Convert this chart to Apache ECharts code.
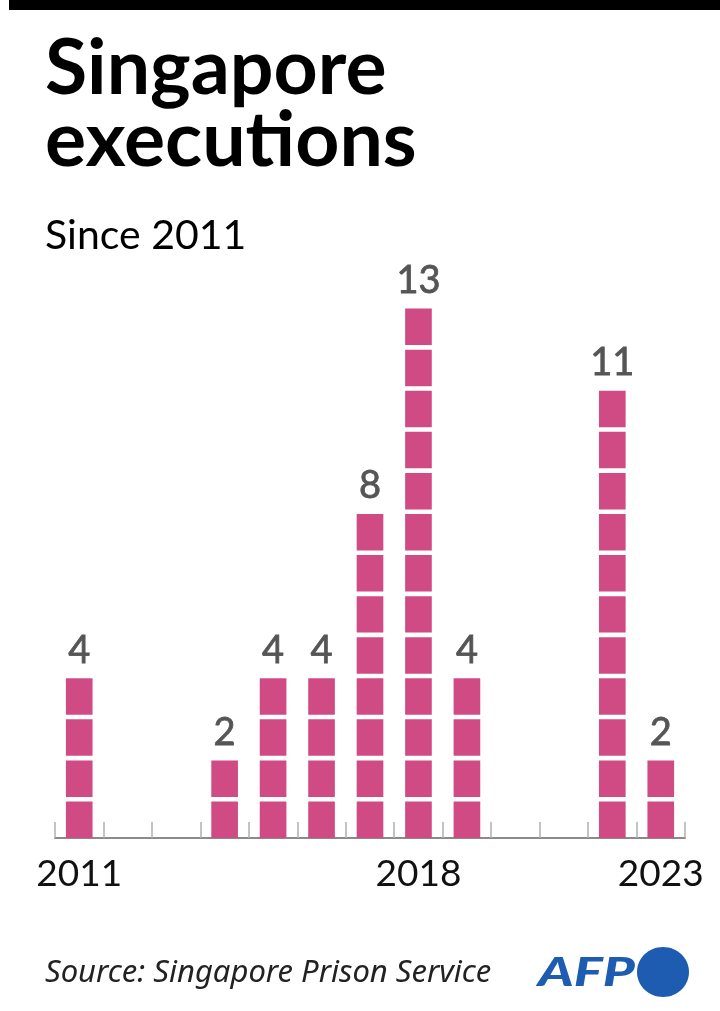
<!DOCTYPE html>
<html>
<head>
<meta charset="utf-8">
<script src="https://cdn.jsdelivr.net/npm/echarts@6/dist/echarts.min.js"></script>
<style>
html,body{margin:0;padding:0;background:#fff;}
#chart{width:720px;height:1011px;}
</style>
</head>
<body>
<div id="chart"></div>
<script>
const years = ['2011','2012','2013','2014','2015','2016','2017','2018','2019','2020','2021','2022','2023'];
const executions = [4, 0, 0, 2, 4, 4, 8, 13, 4, 0, 0, 11, 2];
const shownYearLabels = ['2011','2018','2023'];

const chart = echarts.init(document.getElementById('chart'), null, {renderer:'canvas'});

const PINK = '#d04b84';
const GAP = 4.6;

const option = {
  backgroundColor: '#ffffff',
  animation: false,
  grid: { left: 55, right: 35, top: 304, bottom: 173 },
  xAxis: {
    type: 'category',
    data: years,
    boundaryGap: true,
    axisLine: { show: true, lineStyle: { color: '#8a8a8a', width: 2 } },
    axisTick: { show: true, inside: true, length: 16, interval: 0, lineStyle: { color: '#b0b0b0', width: 1.5 } },
    axisLabel: {
      interval: 0,
      margin: 18,
      color: '#111',
      fontFamily: 'Lato',
      fontSize: 37,
      formatter: function (v) { return shownYearLabels.indexOf(v) >= 0 ? v : ''; }
    }
  },
  yAxis: {
    type: 'value', min: 0, max: 13,
    show: false,
    splitLine: { show: false }
  },
  series: [{
    type: 'custom',
    data: executions.map(function (v, i) { return [i, v]; }),
    renderItem: function (params, api) {
      const xi = api.value(0);
      const v = api.value(1);
      const bw = api.size([1, 0])[0] * 0.55;
      const children = [];
      for (let k = 0; k < v; k++) {
        const p0 = api.coord([xi, k]);
        const p1 = api.coord([xi, k + 1]);
        children.push({
          type: 'rect',
          shape: { x: p0[0] - bw / 2, y: p1[1] + GAP, width: bw, height: p0[1] - p1[1] - GAP },
          style: { fill: PINK }
        });
      }
      if (v > 0) {
        const top = api.coord([xi, v]);
        children.push({
          type: 'text',
          style: {
            text: String(v),
            x: top[0],
            y: top[1] + GAP - 9,
            align: 'center',
            verticalAlign: 'bottom',
            font: '38px Lato',
            fill: '#555555',
            stroke: '#555555',
            lineWidth: 0.8
          }
        });
      }
      return { type: 'group', children: children };
    },
    z: 1
  }],
  graphic: [
    { type: 'rect', left: 9, top: 0, shape: { width: 711, height: 10 }, style: { fill: '#000' } },
    { type: 'text', left: 45, top: 31, style: { text: 'Singapore', font: 'bold 77px Lato', fill: '#000' } },
    { type: 'text', left: 45, top: 103, style: { text: 'executions', font: 'bold 77px Lato', fill: '#000' } },
    { type: 'text', left: 45, top: 215, style: { text: 'Since 2011', font: '41px Lato', fill: '#000' } },
    { type: 'text', left: 45, top: 958, style: { text: 'Source: Singapore Prison Service', font: 'italic 31px "Noto Sans"', fill: '#222' } },
    { type: 'text', x: 538, y: 953, scaleX: 1.36, style: { text: 'AFP', font: 'italic 900 40px Lato', fill: '#1d5cb0' } },
    { type: 'ellipse', shape: { cx: 663, cy: 972, rx: 26, ry: 25 }, style: { fill: '#1d5cb0' } }
  ]
};
chart.setOption(option);
</script>
</body>
</html>
